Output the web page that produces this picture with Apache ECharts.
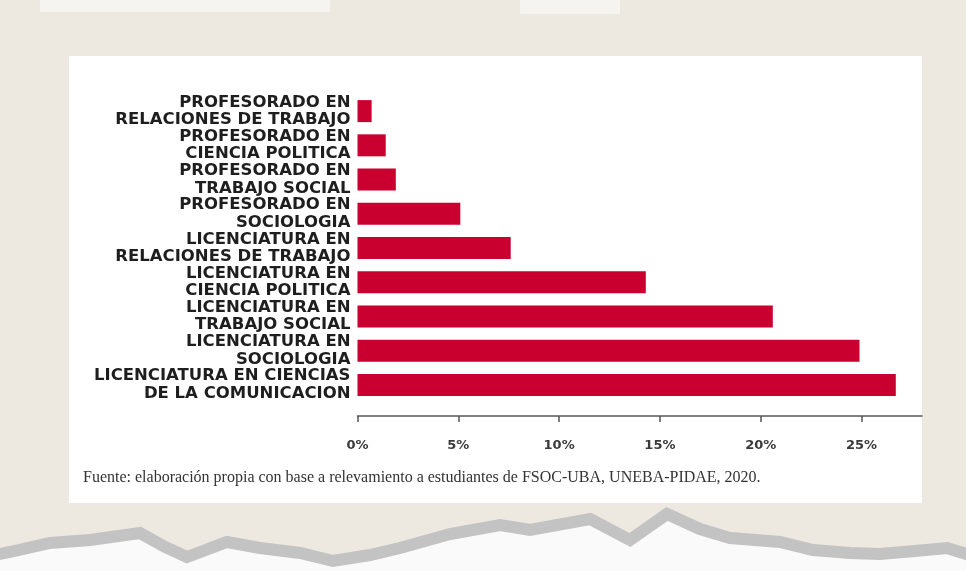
<!DOCTYPE html>
<html>
<head>
<meta charset="utf-8">
<title>Carreras FSOC</title>
<script src="https://cdn.jsdelivr.net/npm/echarts@6/dist/echarts.min.js"></script>
<style>
  html, body { margin: 0; padding: 0; background: #ede8e0; }
  #chart { width: 966px; height: 571px; }
</style>
</head>
<body>
<div id="chart"></div>
<script>
// categorias, de arriba hacia abajo
var categories = [
  'PROFESORADO EN\nRELACIONES DE TRABAJO',
  'PROFESORADO EN\nCIENCIA POLITICA',
  'PROFESORADO EN\nTRABAJO SOCIAL',
  'PROFESORADO EN\nSOCIOLOGIA',
  'LICENCIATURA EN\nRELACIONES DE TRABAJO',
  'LICENCIATURA EN\nCIENCIA POLITICA',
  'LICENCIATURA EN\nTRABAJO SOCIAL',
  'LICENCIATURA EN\nSOCIOLOGIA',
  'LICENCIATURA EN CIENCIAS\nDE LA COMUNICACION'
];
// porcentaje de estudiantes
var values = [0.7, 1.4, 1.9, 5.1, 7.6, 14.3, 20.6, 24.9, 26.7];
var tickValues = [0, 5, 10, 15, 20, 25];
var fuente = 'Fuente: elaboración propia con base a relevamiento a estudiantes de FSOC-UBA, UNEBA-PIDAE, 2020.';

var myChart = echarts.init(document.getElementById('chart'));

// borde de papel rasgado (decorativo)
var tornLine = [
  [-10, 556], [10, 552], [50, 543], [90, 540], [140, 533], [165, 547], [187, 557],
  [227, 542], [260, 548], [300, 553], [333, 561], [370, 555], [400, 548], [450, 534],
  [500, 525], [530, 530], [590, 519], [630, 540], [667, 514], [700, 529], [730, 538],
  [780, 542], [813, 550], [850, 553], [880, 554], [915, 551], [947, 548], [976, 557]
];
var whiteBelow = tornLine.concat([[976, 580], [-10, 580]]);

var option = {
  backgroundColor: '#ede8e0',
  animation: false,
  graphic: [
    { type: 'rect', z: -10, shape: { x: 40, y: 0, width: 290, height: 12 }, style: { fill: '#f6f4f0' } },
    { type: 'rect', z: -10, shape: { x: 520, y: 0, width: 100, height: 14 }, style: { fill: '#f6f4f0' } },
    { type: 'rect', z: -10, shape: { x: 69, y: 56, width: 853, height: 447 }, style: { fill: '#ffffff' } },
    { type: 'polygon', z: -10, shape: { points: whiteBelow }, style: { fill: '#fafafa' } },
    { type: 'polyline', z: -9, shape: { points: tornLine }, style: { stroke: '#c3c3c3', lineWidth: 12, fill: null } },
    {
      type: 'text', left: 83, top: 470,
      style: { text: fuente, fill: '#333', font: '16px "Liberation Serif", serif' }
    }
  ],
  grid: { left: 357.5, right: 44, top: 94, bottom: 169 },
  xAxis: {
    type: 'value',
    min: 0,
    max: 28,
    offset: 14,
    splitLine: { show: false },
    axisLine: { show: true, lineStyle: { color: '#555', width: 1.5 } },
    axisTick: { show: true, length: 6, customValues: tickValues, lineStyle: { color: '#555', width: 1.5 } },
    axisLabel: {
      customValues: tickValues,
      formatter: '{value}%',
      margin: 23,
      color: '#3a3a3a',
      fontWeight: 'bold',
      fontSize: 13,
      fontFamily: 'DejaVu Sans'
    }
  },
  yAxis: {
    type: 'category',
    inverse: true,
    data: categories,
    axisLine: { show: false },
    axisTick: { show: false },
    axisLabel: {
      interval: 0,
      hideOverlap: false,
      margin: 7,
      color: '#1e1e1e',
      fontWeight: 'bold',
      fontSize: 16.5,
      lineHeight: 17.5,
      fontFamily: 'DejaVu Sans',
      align: 'right'
    }
  },
  series: [
    {
      type: 'bar',
      data: values,
      barWidth: 22,
      itemStyle: { color: '#c9002f' }
    }
  ]
};

myChart.setOption(option);
</script>
</body>
</html>
